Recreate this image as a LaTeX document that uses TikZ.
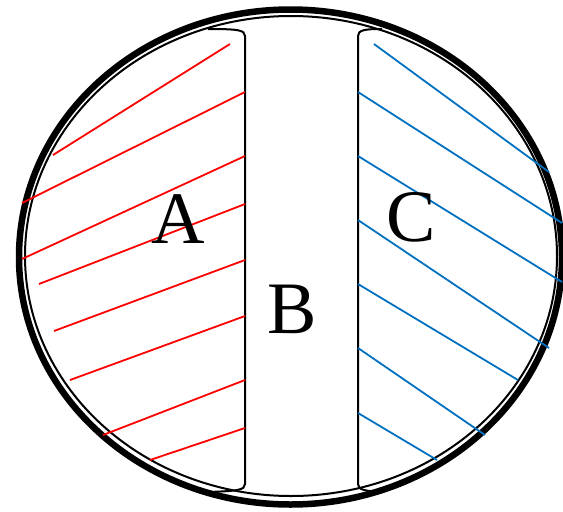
\documentclass[tikz,border=0pt]{standalone}
\usepackage{fontspec}
\setmainfont{Liberation Serif}
\definecolor{hatchred}{RGB}{255,0,0}
\definecolor{hatchblue}{RGB}{0,112,192}
\tikzset{
  redhatch/.style={draw=hatchred, line width=1.8pt},
  bluehatch/.style={draw=hatchblue, line width=1.8pt},
  wall/.style={draw=black, line width=2pt},
  letter/.style={font=\fontsize{74}{74}\selectfont, inner sep=0pt}
}
\begin{document}
\begin{tikzpicture}[x=1pt,y=-1pt]
\useasboundingbox (0,0) rectangle (563,512);
% rims
\draw[line width=6.5pt] (290.5,257) ellipse [x radius=271.5, y radius=247.5];
\draw[line width=2pt] (291,256) ellipse [x radius=266, y radius=240];
% walls
\draw[wall] (208,29) .. controls (238,29) and (245,30) .. (245,36) -- (245,484) .. controls (245,490) and (238,491) .. (208,492);
\draw[wall] (382,29) .. controls (365,29) and (358,30) .. (358,36) -- (358,484) .. controls (358,490) and (365,491) .. (382,492);
% red hatch
\draw[redhatch] (53,155) -- (230,44);
\draw[redhatch] (22,203) -- (245,92);
\draw[redhatch] (22,259) -- (245,156);
\draw[redhatch] (39,284) -- (245,204);
\draw[redhatch] (54,331) -- (245,260);
\draw[redhatch] (70,380) -- (245,316);
\draw[redhatch] (103,435) -- (245,380);
\draw[redhatch] (150,460) -- (245,428);
% blue hatch
\draw[bluehatch] (374,44) -- (549,172);
\draw[bluehatch] (358,92) -- (562,223);
\draw[bluehatch] (358,156) -- (562,282);
\draw[bluehatch] (358,220) -- (549,348);
\draw[bluehatch] (358,284) -- (518,380);
\draw[bluehatch] (358,348) -- (485,435);
\draw[bluehatch] (358,413) -- (437,460);
% labels
\node[letter] (A) at (178,219) {A};
\node[letter] (B) at (292,309) {B};
\node[letter] (C) at (411,217) {C};
\end{tikzpicture}
\end{document}
